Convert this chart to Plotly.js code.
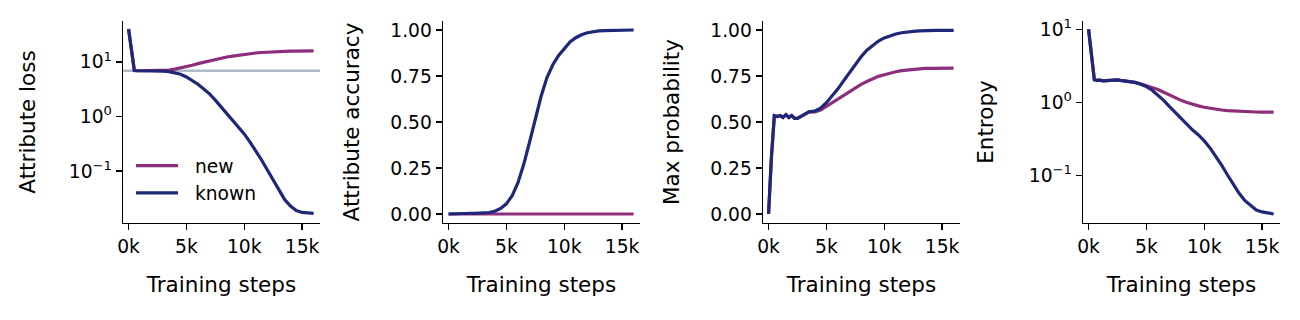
<!DOCTYPE html>
<html>
<head>
<meta charset="utf-8">
<script src="https://cdn.plot.ly/plotly-3.0.1.min.js"></script>
<style>html,body{margin:0;padding:0;background:#fff} #plot{width:1300px;height:320px}</style>
</head>
<body>
<div id="plot"></div>
<script>
// --- Data ---
const steps = [0, 250, 500, 750, 1000, 1250, 1500, 1750, 2000, 2250, 2500, 2750, 3000,
  3500, 4000, 4500, 5000, 5500, 6000, 6500, 7000, 7500, 8000, 8500, 9000, 9500, 10000,
  10500, 11000, 11500, 12000, 12500, 13000, 13500, 14000, 14500, 15000, 15500, 16000];

const lossNew = [40, 15, 6.95, 6.9, 6.9, 6.9, 6.9, 6.9, 6.9, 6.9, 6.9, 6.92, 6.97,
  7.1, 7.4, 7.75, 8.2, 8.7, 9.3, 9.9, 10.5, 11.1, 11.7, 12.3, 12.8, 13.3, 13.8,
  14.2, 14.6, 14.9, 15.15, 15.35, 15.5, 15.65, 15.75, 15.8, 15.85, 15.9, 15.9];
const lossKnown = [40, 15, 6.95, 6.9, 6.9, 6.9, 6.9, 6.9, 6.9, 6.88, 6.85, 6.82, 6.78,
  6.65, 6.35, 5.95, 5.3, 4.6, 3.9, 3.2, 2.6, 2.0, 1.5, 1.12, 0.85, 0.63, 0.48,
  0.34, 0.235, 0.16, 0.105, 0.068, 0.044, 0.03, 0.023, 0.019, 0.0175, 0.017, 0.0168];
const baselineLoss = 6.91;

const accNew = [0, 0, 0, 0, 0, 0, 0, 0, 0, 0, 0, 0, 0,
  0, 0, 0, 0, 0, 0, 0, 0, 0, 0, 0, 0, 0, 0,
  0, 0, 0, 0, 0, 0, 0, 0, 0, 0, 0, 0];
const accKnown = [0, 0.001, 0.002, 0.002, 0.003, 0.003, 0.003, 0.004, 0.004, 0.004, 0.005, 0.005, 0.006,
  0.008, 0.015, 0.03, 0.055, 0.10, 0.17, 0.27, 0.39, 0.52, 0.64, 0.74, 0.81, 0.86, 0.90,
  0.935, 0.958, 0.974, 0.985, 0.991, 0.995, 0.997, 0.998, 0.999, 0.999, 1.0, 1.0];

const probNew = [0, 0.31, 0.535, 0.53, 0.535, 0.525, 0.54, 0.525, 0.535, 0.52, 0.52, 0.53, 0.54,
  0.555, 0.555, 0.565, 0.585, 0.605, 0.628, 0.648, 0.668, 0.688, 0.705, 0.72, 0.735, 0.748, 0.757,
  0.766, 0.773, 0.779, 0.783, 0.787, 0.789, 0.791, 0.792, 0.793, 0.793, 0.793, 0.793];
const probKnown = [0, 0.31, 0.535, 0.53, 0.535, 0.525, 0.54, 0.525, 0.535, 0.52, 0.52, 0.53, 0.54,
  0.555, 0.56, 0.575, 0.605, 0.64, 0.68, 0.725, 0.77, 0.815, 0.855, 0.89, 0.915, 0.94, 0.957,
  0.968, 0.978, 0.985, 0.99, 0.993, 0.995, 0.997, 0.998, 0.998, 0.998, 0.998, 0.998];

const entNew = [10, 4.2, 2.05, 2.0, 2.02, 1.98, 2.0, 1.97, 2.0, 2.02, 2.03, 2.0, 1.98,
  1.94, 1.88, 1.8, 1.7, 1.6, 1.5, 1.38, 1.26, 1.16, 1.07, 1.0, 0.94, 0.9, 0.86,
  0.83, 0.81, 0.79, 0.775, 0.765, 0.755, 0.75, 0.745, 0.742, 0.74, 0.74, 0.74];
const entKnown = [10, 4.2, 2.05, 2.0, 2.02, 1.98, 2.0, 1.97, 2.0, 2.02, 2.03, 2.0, 1.98,
  1.94, 1.88, 1.78, 1.65, 1.47, 1.27, 1.07, 0.88, 0.73, 0.6, 0.5, 0.42, 0.36, 0.30,
  0.24, 0.185, 0.14, 0.103, 0.076, 0.058, 0.046, 0.039, 0.034, 0.032, 0.031, 0.030];

const xTickVals = [0, 5000, 10000, 15000];
const xTickText = ['0k', '5k', '10k', '15k'];
const logTickVals = [0.1, 1, 10];
const logTickText = ['10<sup>\u22121</sup>', '10<sup>0</sup>', '10<sup>1</sup>'];
const linTickVals = [0, 0.25, 0.5, 0.75, 1];
const yTitles = ['Attribute loss', 'Attribute accuracy', 'Max probability', 'Entropy'];

// --- Style ---
const COL_NEW = '#8d2d7b';
const COL_KNOWN = '#1f2778';
const FONT = 'DejaVu Sans, sans-serif';
const TICK_SIZE = 18.7, TITLE_SIZE = 21.5;
const PAD = '\u00a0\u00a0'; // extra gap between legend key and label

function tr(y, name, color, i){
  const s = i === 1 ? '' : String(i);
  return { x: steps, y: y, name: PAD + name, type: 'scatter', mode: 'lines',
    line: { color: color, width: 3.2 }, xaxis: 'x' + s, yaxis: 'y' + s,
    showlegend: i === 1, hoverinfo: 'skip' };
}

const traces = [
  tr(lossNew, 'new', COL_NEW, 1), tr(lossKnown, 'known', COL_KNOWN, 1),
  tr(accNew, 'new', COL_NEW, 2), tr(accKnown, 'known', COL_KNOWN, 2),
  tr(probNew, 'new', COL_NEW, 3), tr(probKnown, 'known', COL_KNOWN, 3),
  tr(entNew, 'new', COL_NEW, 4), tr(entKnown, 'known', COL_KNOWN, 4)
];

const W = 1300, H = 320;
const yDom = [1 - 223 / H, 1 - 21 / H];
const yStandoff = [27, 24, 24, 29];

function xAxis(i){
  const left = 123 + 320 * i;
  return { domain: [left / W, (left + 197) / W], range: [-480, 16550],
    tickvals: xTickVals, ticktext: xTickText, ticks: 'outside', ticklen: 6, tickwidth: 1.4,
    tickcolor: '#000', showline: true, linecolor: '#000', linewidth: 1.4,
    showgrid: false, zeroline: false, anchor: 'y' + (i ? i + 1 : ''),
    tickfont: { size: TICK_SIZE, color: '#000' },
    title: { text: 'Training steps', font: { size: TITLE_SIZE, color: '#000' }, standoff: 21 } };
}
function yAxis(i, log, range){
  const a = { domain: yDom, range: range, ticks: 'outside', ticklen: 6, tickwidth: 1.4,
    tickcolor: '#000', showline: true, linecolor: '#000', linewidth: 1.4,
    showgrid: false, zeroline: false, anchor: 'x' + (i ? i + 1 : ''),
    tickfont: { size: TICK_SIZE, color: '#000' },
    title: { text: yTitles[i], font: { size: TITLE_SIZE, color: '#000' }, standoff: yStandoff[i] } };
  if(log){ a.type = 'log'; a.tickvals = logTickVals; a.ticktext = logTickText; }
  else { a.tickvals = linTickVals; a.tickformat = '.2f'; }
  return a;
}

const layout = {
  width: W, height: H, margin: { l: 0, r: 0, t: 0, b: 0 },
  paper_bgcolor: '#fff', plot_bgcolor: '#fff',
  font: { family: FONT, color: '#000' },
  xaxis: xAxis(0), xaxis2: xAxis(1), xaxis3: xAxis(2), xaxis4: xAxis(3),
  yaxis: yAxis(0, true, [-1.95, 1.75]),
  yaxis2: yAxis(1, false, [-0.049, 1.049]),
  yaxis3: yAxis(2, false, [-0.049, 1.049]),
  yaxis4: yAxis(3, true, [-1.646, 1.113]),
  legend: { x: 131 / W, y: 1 - 147 / H, xanchor: 'left', yanchor: 'top',
    itemwidth: 42, tracegroupgap: 0,
    bgcolor: 'rgba(0,0,0,0)', font: { size: TICK_SIZE, color: '#000' } },
  shapes: [{ type: 'line', xref: 'x domain', x0: 0, x1: 1, yref: 'y', y0: baselineLoss, y1: baselineLoss,
    line: { color: '#aebac7', width: 2.5 }, layer: 'below' }],
  showlegend: true
};

Plotly.newPlot('plot', traces, layout, { staticPlot: true, displayModeBar: false });
</script>
</body>
</html>
